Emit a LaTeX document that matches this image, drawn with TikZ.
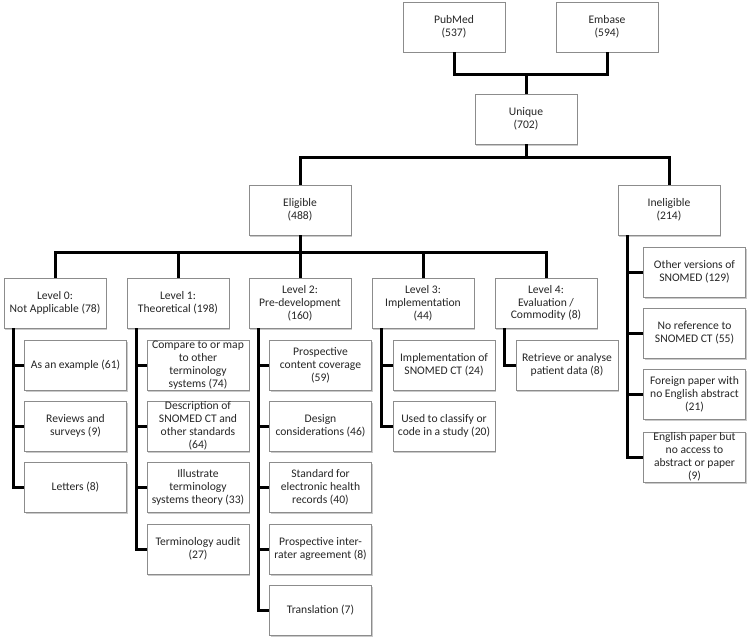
\documentclass[tikz,border=0pt]{standalone}
\usepackage{fontspec}
\setmainfont{Carlito}
\usetikzlibrary{shadows}
\begin{document}
\begin{tikzpicture}[x=1pt,y=-1pt,
  box/.style={draw=black!45, line width=0.6pt, fill=white, minimum width=102pt, minimum height=50pt,
    inner sep=1pt, align=center, font=\fontsize{11.6}{12.9}\selectfont, text=black!85,
    drop shadow={shadow xshift=1.2pt, shadow yshift=-1.5pt, fill=black!35, opacity=0.6}},
  conn/.style={line width=3pt, black}]
\useasboundingbox (0,0) rectangle (750,642);
% top
\node[box] (pub) at (454,27) {PubMed\\(537)};
\node[box] (emb) at (607,27) {Embase\\(594)};
\node[box] (uniq) at (526,119) {Unique\\(702)};
\node[box] (elig) at (300,210) {Eligible\\(488)};
\node[box] (inel) at (669,210) {Ineligible\\(214)};
% levels
\node[box] (l0) at (55,303) {Level 0:\\Not Applicable (78)};
\node[box] (l1) at (178,303) {Level 1:\\Theoretical (198)};
\node[box] (l2) at (300,303) {Level 2:\\Pre-development\\(160)};
\node[box] (l3) at (423,303) {Level 3:\\Implementation\\(44)};
\node[box] (l4) at (546,303) {Level 4:\\Evaluation /\\Commodity (8)};
% level 0 children
\node[box] (a1) at (75.5,365) {As an example (61)};
\node[box] (a2) at (75.5,426) {Reviews and\\surveys (9)};
\node[box] (a3) at (75.5,487.5) {Letters (8)};
% level 1 children
\node[box] (b1) at (198,365) {Compare to or map\\to other\\terminology\\systems (74)};
\node[box] (b2) at (198,426) {Description of\\SNOMED CT and\\other standards\\(64)};
\node[box] (b3) at (198,487.5) {Illustrate\\terminology\\systems theory (33)};
\node[box] (b4) at (198,549) {Terminology audit\\(27)};
% level 2 children
\node[box] (c1) at (320.5,365) {Prospective\\content coverage\\(59)};
\node[box] (c2) at (320.5,426) {Design\\considerations (46)};
\node[box] (c3) at (320.5,487.5) {Standard for\\electronic health\\records (40)};
\node[box] (c4) at (320.5,549) {Prospective inter-\\rater agreement (8)};
\node[box] (c5) at (320.5,610.5) {Translation (7)};
% level 3 children
\node[box] (d1) at (444,365) {Implementation of\\SNOMED CT (24)};
\node[box] (d2) at (444,426) {Used to classify or\\code in a study (20)};
% level 4 children
\node[box] (e1) at (567,365) {Retrieve or analyse\\patient data (8)};
% ineligible children
\node[box] (f1) at (694.5,272) {Other versions of\\SNOMED (129)};
\node[box] (f2) at (694.5,333) {No reference to\\SNOMED CT (55)};
\node[box] (f3) at (694.5,394) {Foreign paper with\\no English abstract\\(21)};
\node[box] (f4) at (694.5,457) {English paper but\\no access to\\abstract or paper\\(9)};
% junctions
\coordinate (j1) at (526,75);
\coordinate (j2) at (526,157);
\coordinate (j3) at (300,252);
% connectors
\draw[conn] (pub.south) |- (j1) -| (emb.south);
\draw[conn] (j1) -- (uniq.north);
\draw[conn] (uniq.south) -- (j2);
\draw[conn] (elig.north) |- (j2) -| (inel.north);
\draw[conn] (elig.south) -- (l2.north);
\draw[conn] (l0.north) |- (j3) -| (l4.north);
\draw[conn] (l1.north) |- (j3);
\draw[conn] (l3.north) |- (j3);
\draw[conn] ([xshift=10pt]l0.south west) |- (a1.west);
\draw[conn] ([xshift=10pt]l0.south west) |- (a2.west);
\draw[conn] ([xshift=10pt]l0.south west) |- (a3.west);
\draw[conn] ([xshift=10pt]l1.south west) |- (b1.west);
\draw[conn] ([xshift=10pt]l1.south west) |- (b2.west);
\draw[conn] ([xshift=10pt]l1.south west) |- (b3.west);
\draw[conn] ([xshift=10pt]l1.south west) |- (b4.west);
\draw[conn] ([xshift=10pt]l2.south west) |- (c1.west);
\draw[conn] ([xshift=10pt]l2.south west) |- (c2.west);
\draw[conn] ([xshift=10pt]l2.south west) |- (c3.west);
\draw[conn] ([xshift=10pt]l2.south west) |- (c4.west);
\draw[conn] ([xshift=10pt]l2.south west) |- (c5.west);
\draw[conn] ([xshift=10pt]l3.south west) |- (d1.west);
\draw[conn] ([xshift=10pt]l3.south west) |- (d2.west);
\draw[conn] ([xshift=10pt]l4.south west) |- (e1.west);
\draw[conn] ([xshift=10pt]inel.south west) |- (f1.west);
\draw[conn] ([xshift=10pt]inel.south west) |- (f2.west);
\draw[conn] ([xshift=10pt]inel.south west) |- (f3.west);
\draw[conn] ([xshift=10pt]inel.south west) |- (f4.west);
\end{tikzpicture}
\end{document}
